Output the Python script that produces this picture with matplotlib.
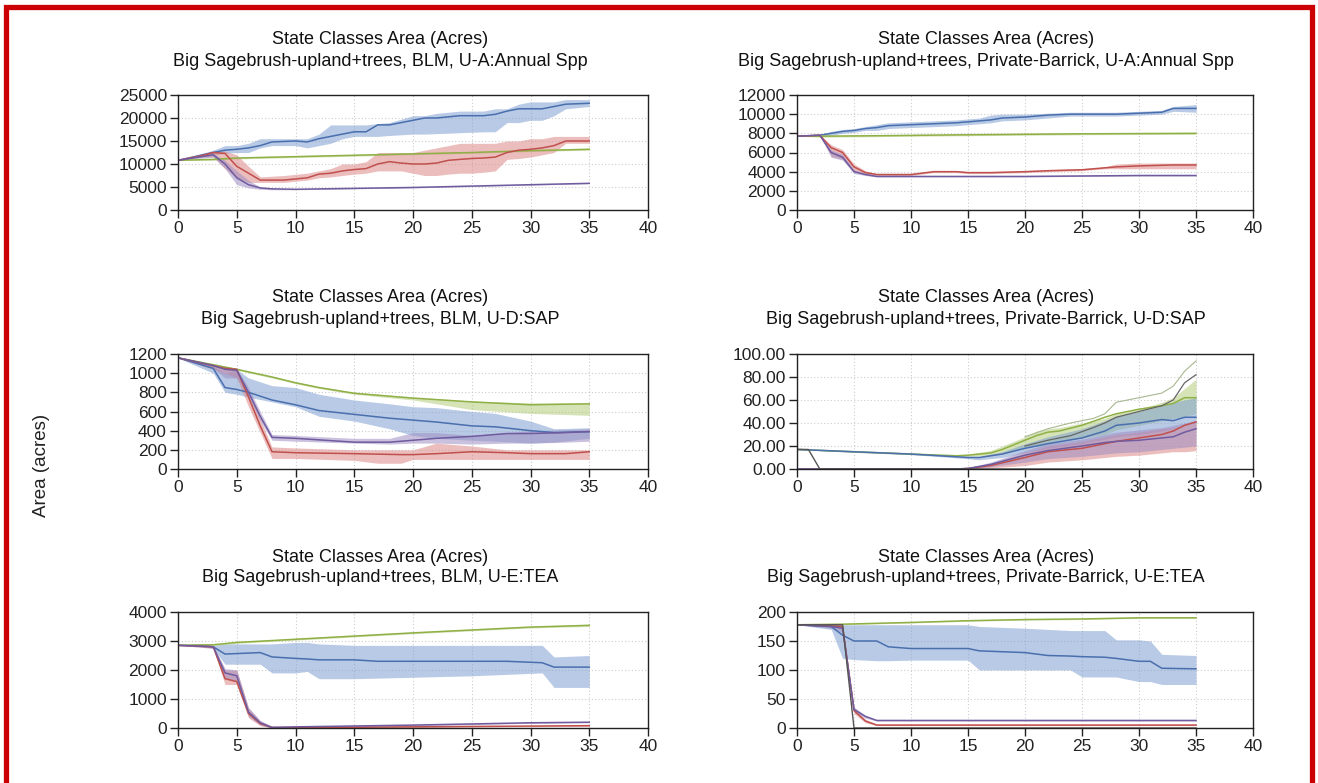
"""
plot.py - State class area trajectories (mean line + min/max band), 6 panels
"""

import matplotlib
matplotlib.use("Agg")
import matplotlib.pyplot as plt
from matplotlib.patches import Rectangle

W, H = 1318, 783

plt.rcParams.update({
    "font.family":  ["Liberation Sans", "DejaVu Sans"],
    "font.size":    12,
    "axes.linewidth": 1.0,
})

COLORS = {
    "blue":   ("#4a6fae", "#7f9fd0"),
    "green":  ("#8fb046", "#b4cc7c"),
    "red":    ("#c0504d", "#dc8a88"),
    "purple": ("#6f5b9e", "#a08ec4"),
}

# ---- panel A : BLM, U-A:Annual Spp ----
A_BLUE_X = [0, 3, 4, 5, 6, 7, 8, 10, 11, 12, 13, 14, 15, 16, 17, 18, 20, 21, 22, 24, 26, 27, 28, 29, 30, 31, 32, 33, 35]
A_BLUE = [10800, 12500, 13000, 13200, 13500, 14000, 14800, 15000, 14800, 15500, 16000, 16500, 17000, 17000, 18500, 18500,
          19500, 20000, 20000, 20500, 20500, 20800, 21500, 22000, 22000, 22000, 22500, 23000, 23200]
A_BLUE_HI = [10800, 13000, 14000, 14000, 14500, 15500, 15500, 15500, 15500, 16500, 18500, 18500, 18500, 18500, 18800, 19000,
             20500, 20500, 21000, 21500, 21500, 22000, 22000, 23000, 23500, 23500, 23500, 24000, 24000]
A_BLUE_LO = [10800, 12000, 12300, 12500, 12500, 13500, 14000, 14000, 13500, 14000, 14500, 15500, 16000, 16000, 16000, 16200,
             16500, 16500, 16600, 16800, 17000, 17000, 19000, 19000, 19500, 19500, 20500, 22000, 22500]
A_GREEN_X = [0, 3, 5, 10, 15, 20, 25, 30, 35]
A_GREEN = [10800, 11000, 11300, 11600, 11900, 12200, 12500, 12900, 13200]
A_GREEN_HI = [10800, 11200, 11500, 11800, 12100, 12400, 12700, 13100, 13400]
A_GREEN_LO = [10800, 10800, 11100, 11400, 11700, 12000, 12300, 12700, 13000]
A_RED_X = [0, 2, 3, 4, 5, 6, 7, 9, 11, 12, 13, 14, 15, 16, 17, 18, 19, 20, 21, 22, 23, 24, 25, 26, 27, 28, 29, 30, 31, 32, 33, 35]
A_RED = [10800, 11800, 12500, 12300, 9500, 8000, 6500, 6500, 7000, 7800, 8000, 8500, 8800, 9000, 10000, 10500, 10200, 10000,
         10000, 10200, 10800, 11000, 11200, 11300, 11500, 12500, 13000, 13200, 13500, 14000, 15000, 15000]
A_RED_HI = [10800, 12000, 12800, 12800, 12000, 9500, 7200, 7500, 8000, 8500, 9000, 10000, 10000, 10500, 12500, 12500, 12500,
            12500, 13000, 13500, 14000, 14500, 14500, 14500, 14500, 15000, 15000, 15500, 15500, 16000, 16000, 16000]
A_RED_LO = [10800, 11500, 11500, 9000, 7000, 6000, 6000, 6000, 6500, 7000, 7200, 7500, 7800, 8000, 8500, 8500, 8500, 8000,
            7500, 7500, 7800, 8000, 8000, 8200, 8500, 11000, 11200, 11500, 12000, 12500, 14500, 14500]
A_PURPLE_X = [0, 3, 4, 5, 6, 7, 8, 10, 15, 20, 25, 30, 35]
A_PURPLE = [10800, 12000, 10000, 7000, 5500, 4800, 4600, 4500, 4700, 4900, 5200, 5500, 5800]
A_PURPLE_HI = [10800, 12300, 10800, 8500, 6500, 5000, 4700, 4600, 4800, 5000, 5300, 5600, 5900]
A_PURPLE_LO = [10800, 11500, 9000, 5500, 4800, 4500, 4400, 4400, 4600, 4800, 5100, 5400, 5700]

# ---- panel B : Private-Barrick, U-A:Annual Spp ----
B_BLUE_X = [0, 2, 3, 4, 5, 6, 7, 8, 10, 12, 14, 16, 17, 18, 20, 22, 24, 26, 28, 30, 32, 33, 35]
B_BLUE = [7700, 7800, 8000, 8200, 8300, 8500, 8600, 8800, 8900, 9000, 9100, 9300, 9400, 9600, 9700, 9900, 10000, 10000,
          10000, 10100, 10200, 10600, 10600]
B_BLUE_HI = [7700, 7900, 8200, 8400, 8500, 8700, 8900, 9100, 9200, 9300, 9400, 9600, 9900, 10000, 10000, 10100, 10200, 10200,
             10200, 10300, 10400, 10800, 11000]
B_BLUE_LO = [7700, 7700, 7800, 8000, 8100, 8300, 8300, 8500, 8600, 8700, 8800, 9000, 9100, 9300, 9400, 9600, 9800, 9800,
             9800, 9900, 10000, 10300, 10200]
B_GREEN_X = [0, 2, 7, 15, 25, 35]
B_GREEN = [7700, 7700, 7750, 7850, 7950, 8000]
B_GREEN_HI = [7700, 7800, 7850, 7950, 8050, 8100]
B_GREEN_LO = [7700, 7600, 7650, 7750, 7850, 7900]
B_RED_X = [0, 2, 3, 4, 5, 6, 7, 10, 12, 14, 15, 17, 20, 22, 25, 27, 28, 30, 33, 35]
B_RED = [7700, 7800, 6500, 6000, 4500, 3900, 3700, 3700, 4000, 4000, 3900, 3900, 4000, 4100, 4200, 4400, 4500, 4600, 4700, 4700]
B_RED_HI = [7700, 7800, 6800, 6300, 4800, 4100, 3800, 3800, 4100, 4100, 4000, 4000, 4100, 4200, 4300, 4500, 4800, 4900, 4900, 4900]
B_RED_LO = [7700, 7800, 5600, 5300, 4000, 3700, 3600, 3600, 3900, 3900, 3800, 3800, 3900, 4000, 4100, 4300, 4300, 4300, 4300, 4300]
B_PURPLE_X = [0, 2, 3, 4, 5, 6, 7, 10, 20, 30, 35]
B_PURPLE = [7700, 7800, 6000, 5500, 4000, 3700, 3500, 3500, 3500, 3600, 3600]
B_PURPLE_HI = [7700, 7800, 6300, 5800, 4200, 3800, 3600, 3600, 3600, 3650, 3650]
B_PURPLE_LO = [7700, 7800, 5500, 5200, 3800, 3600, 3450, 3450, 3450, 3550, 3550]

# ---- panel C : BLM, U-D:SAP ----
C_BLUE_X = [0, 3, 4, 5, 6, 8, 10, 12, 15, 18, 20, 22, 25, 27, 30, 32, 35]
C_BLUE = [1160, 1050, 850, 830, 800, 720, 670, 610, 570, 530, 510, 490, 450, 440, 400, 380, 390]
C_BLUE_HI = [1160, 1080, 1000, 1040, 950, 870, 850, 780, 720, 680, 650, 640, 600, 580, 500, 420, 430]
C_BLUE_LO = [1160, 1000, 800, 780, 750, 700, 650, 550, 500, 420, 350, 320, 300, 290, 270, 280, 320]
C_GREEN_X = [0, 5, 8, 10, 12, 15, 20, 25, 30, 35]
C_GREEN = [1160, 1040, 960, 900, 850, 790, 740, 700, 670, 680]
C_GREEN_HI = [1160, 1050, 970, 910, 860, 800, 750, 710, 690, 690]
C_GREEN_LO = [1160, 1030, 950, 890, 840, 780, 720, 620, 580, 560]
C_RED_X = [0, 4, 5, 6, 7, 8, 10, 15, 17, 19, 20, 22, 25, 28, 30, 33, 35]
C_RED = [1160, 1050, 1040, 750, 450, 180, 170, 160, 155, 150, 150, 160, 180, 170, 160, 160, 180]
C_RED_HI = [1160, 1060, 1050, 800, 520, 230, 220, 200, 200, 200, 200, 270, 240, 200, 200, 200, 200]
C_RED_LO = [1160, 1000, 950, 650, 380, 110, 110, 90, 60, 60, 100, 100, 100, 100, 100, 100, 100]
C_PURPLE_X = [0, 3, 4, 5, 6, 7, 8, 10, 15, 18, 20, 22, 25, 28, 30, 33, 35]
C_PURPLE = [1160, 1080, 1040, 1030, 800, 550, 330, 320, 280, 280, 300, 320, 340, 370, 370, 380, 390]
C_PURPLE_HI = [1160, 1090, 1060, 1050, 850, 600, 360, 350, 320, 320, 380, 380, 350, 380, 400, 410, 420]
C_PURPLE_LO = [1160, 1050, 950, 950, 750, 500, 300, 290, 270, 260, 270, 270, 260, 270, 270, 280, 290]

# ---- panel D : Private-Barrick, U-D:SAP ----
D_BLUE_X = [0, 5, 10, 15, 16, 18, 20, 22, 25, 27, 28, 30, 32, 33, 34, 35]
D_BLUE = [17, 15, 13, 10, 10, 13, 18, 22, 27, 33, 38, 40, 43, 42, 45, 45]
D_BLUE_HI = [17, 15.5, 13.5, 11, 11, 15, 22, 28, 35, 42, 46, 50, 55, 58, 60, 62]
D_BLUE_LO = [17, 14.5, 12.5, 9, 8, 10, 14, 18, 22, 26, 28, 30, 33, 35, 38, 40]
D_GREEN_X = [0, 5, 10, 14, 15, 17, 18, 20, 21, 22, 23, 25, 27, 28, 30, 32, 33, 34, 35]
D_GREEN = [17, 15, 13, 11.5, 12, 14, 17, 25, 29, 32, 33, 38, 45, 48, 52, 55, 57, 62, 62]
D_GREEN_HI = [17, 15.5, 13.5, 12, 13, 16, 20, 28, 33, 35, 36, 40, 44, 48, 52, 58, 62, 70, 78]
D_GREEN_LO = [17, 14.5, 12.5, 11, 11, 12, 14, 18, 20, 22, 24, 27, 30, 34, 38, 42, 44, 46, 48]
D_RED_X = [0, 14, 15, 17, 20, 22, 25, 27, 28, 30, 32, 33, 34, 35]
D_RED = [0, 0, 0.5, 3, 10, 15, 18, 22, 24, 27, 30, 33, 38, 41]
D_RED_HI = [0, 0, 1, 5, 14, 20, 24, 28, 30, 32, 35, 36, 38, 42]
D_RED_LO = [0, 0, 0, 1, 3, 6, 8, 10, 11, 12, 14, 15, 15, 16]
D_PURPLE_X = [0, 14, 15, 17, 20, 22, 25, 27, 28, 30, 32, 33, 34, 35]
D_PURPLE = [0, 0, 0.5, 4, 12, 16, 20, 23, 24, 25, 27, 28, 32, 35]
D_PURPLE_HI = [0, 0, 1, 6, 16, 22, 26, 30, 32, 34, 36, 38, 40, 42]
D_PURPLE_LO = [0, 0, 0, 2, 6, 9, 11, 13, 14, 15, 17, 18, 19, 20]
D_GREY_X = [0, 1, 2, 35]
D_GREY = [17, 17, 0, 0]
# thin upper envelope lines seen on the right of panel D
D_EDGE_X = [20, 22, 24, 26, 27, 28, 30, 32, 33, 34, 35]
D_EDGE_GREEN = [28, 35, 40, 44, 48, 58, 62, 66, 72, 85, 94]
D_EDGE_GREY = [20, 25, 29, 36, 40, 45, 50, 55, 60, 75, 82]

# ---- panel E : BLM, U-E:TEA ----
E_BLUE_X = [0, 2, 3, 4, 7, 8, 10, 11, 12, 15, 17, 20, 25, 28, 31, 32, 35]
E_BLUE = [2850, 2850, 2800, 2550, 2600, 2450, 2400, 2380, 2350, 2350, 2300, 2300, 2300, 2300, 2250, 2100, 2100]
E_BLUE_HI = [2850, 2850, 2850, 2900, 2900, 2900, 2950, 2950, 2900, 2850, 2850, 2850, 2850, 2850, 2850, 2450, 2500]
E_BLUE_LO = [2850, 2850, 2750, 2200, 2200, 1900, 1900, 1950, 1700, 1700, 1720, 1750, 1800, 1850, 1900, 1400, 1400]
E_GREEN_X = [0, 3, 5, 10, 15, 20, 25, 30, 35]
E_GREEN = [2850, 2870, 2950, 3060, 3170, 3280, 3380, 3480, 3540]
E_GREEN_HI = [2850, 2890, 2980, 3090, 3200, 3310, 3410, 3510, 3580]
E_GREEN_LO = [2850, 2850, 2920, 3030, 3140, 3250, 3350, 3450, 3500]
E_RED_X = [0, 3, 4, 5, 6, 7, 8, 10, 20, 35]
E_RED = [2850, 2800, 1700, 1600, 500, 150, 20, 10, 40, 80]
E_RED_HI = [2850, 2850, 2000, 2000, 700, 250, 50, 20, 60, 100]
E_RED_LO = [2850, 2750, 1500, 1500, 350, 80, 0, 0, 20, 60]
E_PURPLE_X = [0, 3, 4, 5, 6, 7, 8, 10, 15, 20, 25, 30, 35]
E_PURPLE = [2850, 2800, 1900, 1800, 550, 180, 20, 40, 70, 100, 140, 180, 200]
E_PURPLE_HI = [2850, 2850, 2050, 2000, 700, 260, 50, 60, 90, 120, 160, 200, 220]
E_PURPLE_LO = [2850, 2750, 1700, 1600, 400, 100, 0, 20, 50, 80, 120, 160, 180]

# ---- panel F : Private-Barrick, U-E:TEA ----
F_BLUE_X = [0, 3, 4, 5, 7, 8, 10, 15, 16, 20, 22, 24, 25, 27, 28, 30, 31, 32, 35]
F_BLUE = [178, 175, 160, 150, 150, 140, 137, 137, 133, 130, 125, 124, 123, 122, 120, 115, 115, 103, 102]
F_BLUE_HI = [178, 178, 178, 178, 178, 178, 178, 178, 175, 172, 170, 168, 168, 168, 152, 152, 150, 127, 125]
F_BLUE_LO = [178, 170, 120, 118, 116, 116, 117, 117, 100, 100, 100, 100, 88, 88, 88, 80, 80, 75, 75]
F_GREEN_X = [0, 4, 10, 15, 20, 25, 30, 35]
F_GREEN = [178, 179, 182, 185, 187, 188, 190, 190]
F_GREEN_HI = [178, 180, 183, 186, 188, 189, 191, 191]
F_GREEN_LO = [178, 178, 181, 184, 186, 187, 189, 189]
F_RED_X = [0, 3, 4, 5, 6, 7, 10, 35]
F_RED = [178, 176, 175, 30, 12, 5, 5, 5]
F_RED_HI = [178, 178, 178, 35, 15, 7, 7, 7]
F_RED_LO = [178, 174, 172, 25, 9, 4, 4, 4]
F_PURPLE_X = [0, 3, 4, 5, 6, 7, 35]
F_PURPLE = [178, 175, 172, 32, 20, 13, 13]
F_PURPLE_HI = [178, 177, 176, 36, 22, 14, 14]
F_PURPLE_LO = [178, 172, 165, 28, 17, 12, 12]
F_GREY_X = [0, 4, 5, 35]
F_GREY = [178, 178, 0, 0]

TITLE_1 = "State Classes Area (Acres)"
SUBTITLES = [
    "Big Sagebrush-upland+trees, BLM, U-A:Annual Spp",
    "Big Sagebrush-upland+trees, Private-Barrick, U-A:Annual Spp",
    "Big Sagebrush-upland+trees, BLM, U-D:SAP",
    "Big Sagebrush-upland+trees, Private-Barrick, U-D:SAP",
    "Big Sagebrush-upland+trees, BLM, U-E:TEA",
    "Big Sagebrush-upland+trees, Private-Barrick, U-E:TEA",
]
Y_MAX = [25000, 12000, 1200, 100, 4000, 200]
Y_STEP = [5000, 2000, 200, 20, 1000, 50]
Y_FMT = ["{:.0f}", "{:.0f}", "{:.0f}", "{:.2f}", "{:.0f}", "{:.0f}"]
X_TICKS = [0, 5, 10, 15, 20, 25, 30, 35, 40]

PANELS = [
    [("blue", A_BLUE_X, A_BLUE, A_BLUE_LO, A_BLUE_HI), ("green", A_GREEN_X, A_GREEN, A_GREEN_LO, A_GREEN_HI),
     ("red", A_RED_X, A_RED, A_RED_LO, A_RED_HI), ("purple", A_PURPLE_X, A_PURPLE, A_PURPLE_LO, A_PURPLE_HI)],
    [("blue", B_BLUE_X, B_BLUE, B_BLUE_LO, B_BLUE_HI), ("green", B_GREEN_X, B_GREEN, B_GREEN_LO, B_GREEN_HI),
     ("red", B_RED_X, B_RED, B_RED_LO, B_RED_HI), ("purple", B_PURPLE_X, B_PURPLE, B_PURPLE_LO, B_PURPLE_HI)],
    [("blue", C_BLUE_X, C_BLUE, C_BLUE_LO, C_BLUE_HI), ("green", C_GREEN_X, C_GREEN, C_GREEN_LO, C_GREEN_HI),
     ("red", C_RED_X, C_RED, C_RED_LO, C_RED_HI), ("purple", C_PURPLE_X, C_PURPLE, C_PURPLE_LO, C_PURPLE_HI)],
    [("green", D_GREEN_X, D_GREEN, D_GREEN_LO, D_GREEN_HI), ("blue", D_BLUE_X, D_BLUE, D_BLUE_LO, D_BLUE_HI),
     ("red", D_RED_X, D_RED, D_RED_LO, D_RED_HI), ("purple", D_PURPLE_X, D_PURPLE, D_PURPLE_LO, D_PURPLE_HI)],
    [("blue", E_BLUE_X, E_BLUE, E_BLUE_LO, E_BLUE_HI), ("green", E_GREEN_X, E_GREEN, E_GREEN_LO, E_GREEN_HI),
     ("red", E_RED_X, E_RED, E_RED_LO, E_RED_HI), ("purple", E_PURPLE_X, E_PURPLE, E_PURPLE_LO, E_PURPLE_HI)],
    [("blue", F_BLUE_X, F_BLUE, F_BLUE_LO, F_BLUE_HI), ("green", F_GREEN_X, F_GREEN, F_GREEN_LO, F_GREEN_HI),
     ("red", F_RED_X, F_RED, F_RED_LO, F_RED_HI), ("purple", F_PURPLE_X, F_PURPLE, F_PURPLE_LO, F_PURPLE_HI)],
]

# axes boxes in pixels: left, right, top, bottom
COL_X = [(178, 648), (797, 1253)]
ROW_Y = [(95, 210), (354, 469), (612, 728)]
TITLE_CX = [380, 986]
TITLE_Y = [(40, 61), (298, 319), (557, 578)]


def px_axes(fig, x0, x1, y0, y1):
    return fig.add_axes([x0 / W, 1 - y1 / H, (x1 - x0) / W, (y1 - y0) / H])


def draw_panel(ax, series, i):
    for name, xs, mean, lo, hi in series:
        line_c, band_c = COLORS[name]
        ax.fill_between(xs, lo, hi, color=band_c, alpha=0.55, linewidth=0)
        ax.plot(xs, mean, color=line_c, linewidth=1.1)

    ax.set_xlim(0, 40)
    ax.set_ylim(0, Y_MAX[i])
    ax.set_xticks(X_TICKS)
    yt = list(range(0, Y_MAX[i] + 1, Y_STEP[i]))
    ax.set_yticks(yt)
    ax.set_yticklabels([Y_FMT[i].format(v) for v in yt])
    ax.tick_params(direction="out", length=6, width=1.0, pad=2,
                   labelsize=12.5, colors="#222222")
    ax.grid(True, color="#cccccc", linestyle=(0, (1, 2)), linewidth=0.8)
    ax.set_axisbelow(True)
    for sp in ax.spines.values():
        sp.set_color("#222222")


fig = plt.figure(figsize=(W / 100, H / 100), dpi=100)

for i, series in enumerate(PANELS):
    r, c = divmod(i, 2)
    ax = px_axes(fig, COL_X[c][0], COL_X[c][1], ROW_Y[r][0], ROW_Y[r][1])
    draw_panel(ax, series, i)

    if i == 3:
        ax.plot(D_EDGE_X, D_EDGE_GREEN, color="#a8b890", linewidth=0.8)
        ax.plot(D_EDGE_X, D_EDGE_GREY, color="#666666", linewidth=0.9)
        ax.plot(D_GREY_X, D_GREY, color="#555555", linewidth=1.0)
    if i == 5:
        ax.plot(F_GREY_X, F_GREY, color="#555555", linewidth=1.0)

    fig.text(TITLE_CX[c] / W, 1 - TITLE_Y[r][0] / H, TITLE_1,
             ha="center", va="center", fontsize=13, color="#111111")
    fig.text(TITLE_CX[c] / W, 1 - TITLE_Y[r][1] / H, SUBTITLES[i],
             ha="center", va="center", fontsize=13, color="#111111")

fig.text(42 / W, 1 - 465 / H, "Area (acres)", rotation=90,
         ha="center", va="center", fontsize=13.5, color="#222222")

# red frame around the whole picture
fig.patches.append(Rectangle((5.5 / W, -0.02), (1312 - 5.5) / W, 1.02 - 7 / H,
                             transform=fig.transFigure, fill=False,
                             edgecolor="#cc0000", linewidth=3.8))

fig.savefig("out.png", dpi=100)
